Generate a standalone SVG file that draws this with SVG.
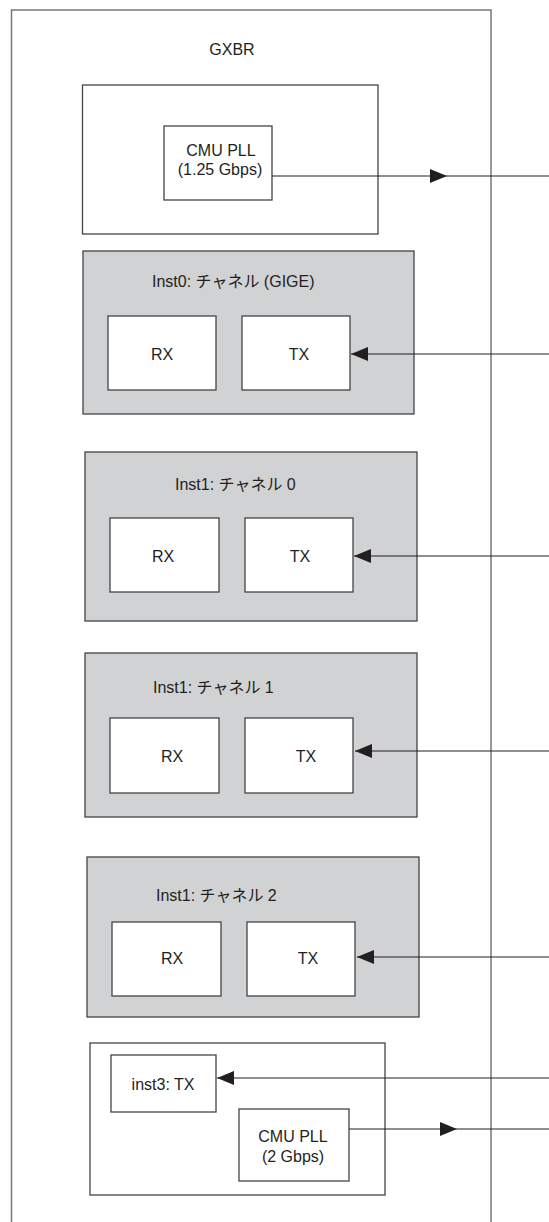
<svg xmlns="http://www.w3.org/2000/svg" width="549" height="1222" viewBox="0 0 549 1222">
<style>
text{font-family:"Liberation Sans","Noto Sans CJK JP",Arial,sans-serif;font-size:16px;fill:#231f20}
.lbl{font-size:16px}
.c{text-anchor:middle}
.frame{fill:none;stroke:#777;stroke-width:1.5}
.wbox{fill:#fff;stroke:#444;stroke-width:1.3}
.gbox{fill:#d1d2d4;stroke:#444;stroke-width:1.3}
.conn{fill:none;stroke:#231f20;stroke-width:1.2}
</style>
<defs>
<marker id="ah" markerUnits="userSpaceOnUse" markerWidth="17" markerHeight="14" viewBox="0 0 17 14" refX="17" refY="7" orient="auto">
<path d="M0,0 L17,7 L0,14 z" fill="#231f20"/>
</marker>
</defs>
<rect width="549" height="1222" fill="#fff"/>
<g id="gxbr">
<path class="frame" d="M11.5,1222 V10 H491 V1222"/>
<text class="c" x="232" y="55">GXBR</text>
</g>
<g id="pll-group">
<rect class="wbox" x="82.5" y="85" width="295.5" height="149"/>
</g>
<g id="cmu-pll-1">
<rect class="wbox" x="164" y="126" width="108" height="74"/>
<text class="c" x="221" y="156">CMU PLL</text>
<text class="c" x="220" y="175">(1.25 Gbps)</text>
</g>
<g id="inst0">
<rect class="gbox" x="83" y="251" width="331" height="163"/>
<text class="lbl" x="152" y="287">Inst0: チャネル (GIGE)</text>
<rect class="wbox" x="108" y="316" width="108" height="74"/>
<text class="c" x="162" y="360">RX</text>
<rect class="wbox" x="242" y="316" width="108" height="74"/>
<text class="c" x="299" y="360">TX</text>
</g>
<g id="inst1-ch0">
<rect class="gbox" x="85" y="452" width="332" height="169"/>
<text class="lbl" x="175" y="490">Inst1: チャネル 0</text>
<rect class="wbox" x="110" y="518" width="109" height="74"/>
<text class="c" x="163" y="562">RX</text>
<rect class="wbox" x="245" y="518" width="108" height="74"/>
<text class="c" x="300" y="562">TX</text>
</g>
<g id="inst1-ch1">
<rect class="gbox" x="85" y="653" width="332" height="164"/>
<text class="lbl" x="153" y="693">Inst1: チャネル 1</text>
<rect class="wbox" x="110" y="718" width="109" height="75"/>
<text class="c" x="172" y="762">RX</text>
<rect class="wbox" x="245" y="718" width="108" height="75"/>
<text class="c" x="306" y="762">TX</text>
</g>
<g id="inst1-ch2">
<rect class="gbox" x="87" y="857" width="332" height="160"/>
<text class="lbl" x="156" y="901">Inst1: チャネル 2</text>
<rect class="wbox" x="112" y="922" width="109" height="74"/>
<text class="c" x="172" y="964">RX</text>
<rect class="wbox" x="247" y="922" width="108" height="74"/>
<text class="c" x="308" y="964">TX</text>
</g>
<g id="inst3-group">
<rect class="wbox" x="90" y="1043" width="295" height="152"/>
</g>
<g id="inst3-tx">
<rect class="wbox" x="111" y="1055" width="105" height="57"/>
<text class="c" x="163" y="1090">inst3: TX</text>
</g>
<g id="cmu-pll-2">
<rect class="wbox" x="239" y="1109" width="110" height="72"/>
<text class="c" x="293" y="1142">CMU PLL</text>
<text class="c" x="293" y="1162">(2 Gbps)</text>
</g>
<g id="connectors">
<path class="conn" d="M272,176 H447 H549" marker-mid="url(#ah)"/>
<path class="conn" d="M549,354 H351" marker-end="url(#ah)"/>
<path class="conn" d="M549,556 H354" marker-end="url(#ah)"/>
<path class="conn" d="M549,751 H355" marker-end="url(#ah)"/>
<path class="conn" d="M549,957 H357" marker-end="url(#ah)"/>
<path class="conn" d="M549,1078 H217" marker-end="url(#ah)"/>
<path class="conn" d="M349,1129 H457 H549" marker-mid="url(#ah)"/>
</g>
</svg>
